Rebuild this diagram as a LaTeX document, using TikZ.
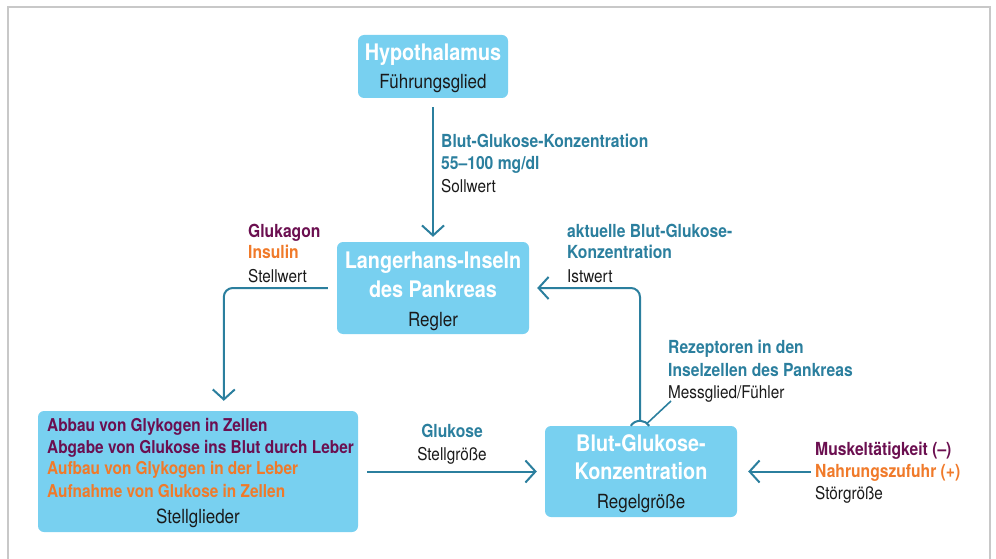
\documentclass[tikz,border=0pt]{standalone}
\usepackage{fontspec}
\setmainfont{TeX Gyre Heros}[FakeStretch=0.87]
\usetikzlibrary{arrows.meta,calc}
\definecolor{boxblue}{HTML}{78D0F0}
\definecolor{lineteal}{HTML}{2B7F9E}
\definecolor{purp}{HTML}{6B0F50}
\definecolor{orng}{HTML}{F07A2A}
\definecolor{framegray}{HTML}{C8C8C8}
\definecolor{txtblack}{HTML}{1A1A1A}
\tikzset{
  box/.style={fill=boxblue, rounded corners=6pt, draw=none, inner sep=0pt},
  arr/.style={draw=lineteal, line width=2pt, -{Straight Barb[length=10pt,width=22pt,line width=2pt]}},
  lbl/.style={inner sep=0pt, anchor=base west, text=txtblack, font=\fontsize{17.6}{22}\selectfont},
  lblb/.style={lbl, font=\fontsize{18}{22}\selectfont\bfseries},
  btitle/.style={inner sep=0pt, anchor=base, text=white, font=\fontsize{22.8}{27}\selectfont\bfseries},
  bsub/.style={inner sep=0pt, anchor=base, text=txtblack, font=\fontsize{19.5}{24}\selectfont},
  bline/.style={inner sep=0pt, anchor=base west, font=\fontsize{17.7}{22}\selectfont\bfseries},
}
\begin{document}
\begin{tikzpicture}[x=1pt,y=-1pt]
\useasboundingbox (0,0) rectangle (996,559);
\draw[framegray, line width=1.8pt] (8,562) -- (8,7) -- (990,7) -- (990,562);

% boxes
\node[box, minimum width=150pt, minimum height=63pt] (hypo) at (433,66.5) {};
\node[box, minimum width=192pt, minimum height=92pt] (lang) at (433,288) {};
\node[box, minimum width=320pt, minimum height=121pt] (stell) at (198,471.5) {};
\node[box, minimum width=192pt, minimum height=91pt] (regel) at (641,471.5) {};

% box texts
\node[btitle] (hypoT) at (433,61) {Hypothalamus};
\node[bsub] (hypoS) at (433,89) {Führungsglied};
\node[btitle] (langT1) at (433,268) {Langerhans-Inseln};
\node[btitle] (langT2) at (433,297) {des Pankreas};
\node[bsub] (langS) at (433,326) {Regler};
\node[btitle] (regT1) at (641,451) {Blut-Glukose-};
\node[btitle] (regT2) at (641,479) {Konzentration};
\node[bsub] (regS) at (641,508) {Regelgröße};
\node[bline, text=purp] (st1) at (47,431) {Abbau von Glykogen in Zellen};
\node[bline, text=purp] (st2) at (47,453) {Abgabe von Glukose ins Blut durch Leber};
\node[bline, text=orng] (st3) at (47,474) {Aufbau von Glykogen in der Leber};
\node[bline, text=orng] (st4) at (47,497) {Aufnahme von Glukose in Zellen};
\node[bsub] (stS) at (198,523) {Stellglieder};

% labels
\node[lblb, text=lineteal] (sw1) at (441,148) {Blut-Glukose-Konzentration};
\node[lblb, text=lineteal] (sw2) at (441,170) {55–100 mg/dl};
\node[lbl] (sw3) at (441,192) {Sollwert};
\node[lblb, text=purp] (sv1) at (248,237) {Glukagon};
\node[lblb, text=orng] (sv2) at (248,258) {Insulin};
\node[lbl] (sv3) at (248,282) {Stellwert};
\node[lblb, text=lineteal] (iw1) at (567,237) {aktuelle Blut-Glukose-};
\node[lblb, text=lineteal] (iw2) at (567,258) {Konzentration};
\node[lbl] (iw3) at (567,282) {Istwert};
\node[lblb, text=lineteal] (mg1) at (668,353) {Rezeptoren in den};
\node[lblb, text=lineteal] (mg2) at (668,376) {Inselzellen des Pankreas};
\node[lbl] (mg3) at (668,398) {Messglied/Fühler};
\node[lblb, text=lineteal, anchor=base] (sg1) at (452,437) {Glukose};
\node[lbl, anchor=base] (sg2) at (452,460) {Stellgröße};
\node[lblb, text=purp] (sz1) at (815,455) {Muskeltätigkeit (–)};
\node[lblb, text=orng] (sz2) at (815,477) {Nahrungszufuhr (+)};
\node[lbl] (sz3) at (815,499) {Störgröße};

% connectors
\draw[arr] ([yshift=-9pt]hypo.south) -- ([yshift=5pt]lang.north);
\draw[arr, rounded corners=9pt] ([xshift=-9pt]lang.west) -| ($(stell.north west)+(186,-10)$);
\draw[arr] ([xshift=9pt]stell.east) -- ([xshift=-8pt]regel.west);
\coordinate (stoer) at (811,471.5);
\draw[arr] (stoer) -- ([xshift=11pt]regel.east);
\coordinate (mess) at ($(regel.north)+(-1,6)$);
\draw[lineteal, line width=2pt] ($(mess)+(147:11pt)$) arc[start angle=147, end angle=33, radius=11pt];
\draw[arr, rounded corners=9pt] ($(mess)+(0,-11)$) |- ([xshift=8pt]lang.east);
\coordinate (messend) at (671,401);
\draw[lineteal, line width=1.6pt] ($(mess)+(50:11pt)$) -- (messend);
\end{tikzpicture}
\end{document}
